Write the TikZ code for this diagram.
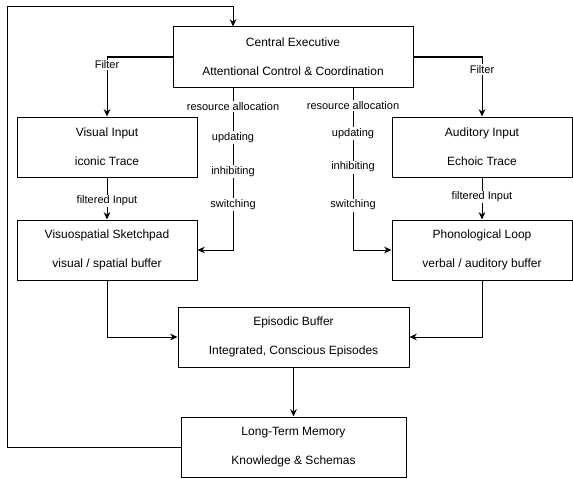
\documentclass[tikz,border=0pt]{standalone}
\usepackage{fontspec}
\setmainfont{Liberation Sans}
\usetikzlibrary{arrows.meta}
\tikzstyle{box} = [draw, rectangle, line width=0.75pt, minimum width=135pt, minimum height=45pt, inner sep=0pt, align=center, font=\fontsize{9}{21.75}\selectfont]
\tikzstyle{wide} = [box, minimum width=180pt]
\tikzstyle{note} = [fill=white, inner sep=1pt, font=\fontsize{8.25}{10}\selectfont]
\tikzstyle{flow} = [-{Stealth[length=5.5pt, width=5pt]}, line width=0.75pt]

\begin{document}
\begin{tikzpicture}[x=0.75pt, y=-0.75pt]
    \useasboundingbox (0, 0) rectangle (573, 478);

    \node (executive) [wide] at (293, 57) {Central Executive\\Attentional Control \& Coordination};

    \node (visual input) [box] at (107, 147) {Visual Input\\iconic Trace};
    \node (sketchpad) [box] at (107, 250) {Visuospatial Sketchpad\\visual / spatial buffer};

    \node (auditory input) [box] at (482, 147) {Auditory Input\\Echoic Trace};
    \node (phonological) [box] at (482, 250) {Phonological Loop\\verbal / auditory buffer};

    \node (episodic) [box, minimum width=173.25pt] at (293.5, 337) {Episodic Buffer\\Integrated, Conscious Episodes};
    \node (memory) [box, minimum width=168.75pt] at (293.5, 447) {Long-Term Memory\\Knowledge \& Schemas};

    \coordinate (corner) at (7, 7);

    \draw [flow] (executive.west) -| node [note, pos=0.567] {Filter} (visual input.north);
    \draw [flow] (executive.east) -| node [note, pos=0.608] {Filter} (auditory input.north);

    \draw [flow] (visual input) -- node [note, pos=0.56] {filtered Input} (sketchpad);
    \draw [flow] (auditory input) -- node [note, pos=0.465] {filtered Input} (phonological);

    \draw [flow] ([xshift=-45pt]executive.south) |-
        node [note, pos=0.058] {resource allocation}
        node [note, pos=0.153] {updating}
        node [note, pos=0.258] {inhibiting}
        node [note, pos=0.359] {switching} (sketchpad.east);
    \draw [flow] ([xshift=45pt]executive.south) |-
        node [note, pos=0.055] {resource allocation}
        node [note, pos=0.141] {updating}
        node [note, pos=0.245] {inhibiting}
        node [note, pos=0.362] {switching} (phonological.west);

    \draw [flow] (sketchpad.south) |- (episodic.west);
    \draw [flow] (phonological.south) |- (episodic.east);
    \draw [flow] (episodic) -- (memory);

    \draw [flow] (memory.west) -| (corner) -| ([xshift=-45pt]executive.north);
\end{tikzpicture}
\end{document}
